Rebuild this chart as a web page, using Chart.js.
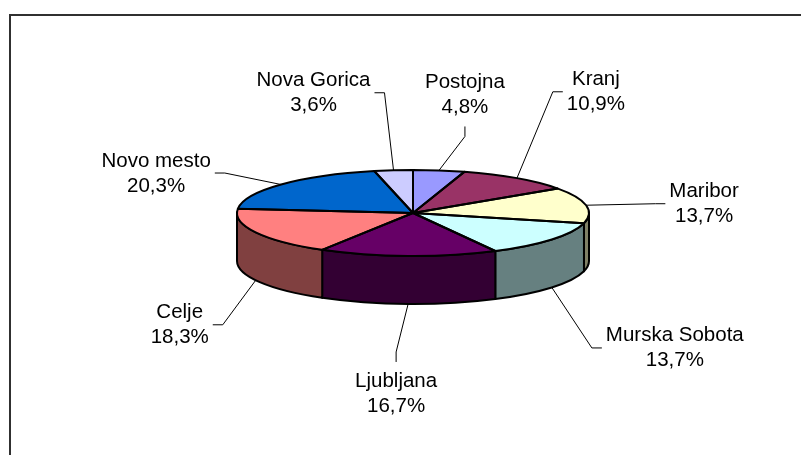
<!DOCTYPE html>
<html>
<head>
<meta charset="utf-8">
<script src="https://cdn.jsdelivr.net/npm/chart.js@4.4.0/dist/chart.umd.min.js"></script>
<style>
  html, body { margin: 0; padding: 0; background: #fff; }
  #wrap { width: 801px; height: 455px; }
</style>
</head>
<body>
<div id="wrap"><canvas id="pieChart" width="801" height="455"></canvas></div>
<script>
// Data
const regions = ['Postojna', 'Kranj', 'Maribor', 'Murska Sobota', 'Ljubljana', 'Celje', 'Novo mesto', 'Nova Gorica'];
const shares = [4.8, 10.9, 13.7, 13.7, 16.7, 18.3, 20.3, 3.6];

// Colors (top face and darker side wall)
const topColors = ['#9999FF', '#993366', '#FFFFCC', '#CCFFFF', '#660066', '#FF8080', '#0066CC', '#CCCCFF'];
const sideColors = ['#4C4C80', '#4C1933', '#808066', '#668080', '#330033', '#804040', '#003366', '#666680'];

// 3D look: vertical squash of the disc and height of the wall
const TILT = 43 / 176;
const DEPTH = 48;

// where each label sits, relative to the point where its leader touches the slice
const labelOffsets = [[26, -82], [79, -93], [118, -8], [123, 54], [-12, 83], [-76, 38], [-125, -18], [-80, -84]];

function fmt(v) {
    return v.toFixed(1).replace('.', ',') + '%';
}

const framePlugin = {
    id: 'frame',
    beforeDraw(chart) {
        const ctx = chart.ctx;
        ctx.save();
        ctx.strokeStyle = '#303030';
        ctx.lineWidth = 2;
        ctx.beginPath();
        ctx.moveTo(10, chart.height);
        ctx.lineTo(10, 15);
        ctx.lineTo(chart.width, 15);
        ctx.stroke();
        ctx.restore();
    }
};

const tiltPlugin = {
    id: 'tilt',
    beforeDatasetsDraw(chart) {
        const ctx = chart.ctx;
        const arcs = chart.getDatasetMeta(0).data;
        // side walls (only the front half is visible)
        ctx.save();
        ctx.strokeStyle = '#000';
        ctx.lineWidth = 2;
        ctx.lineJoin = 'round';
        arcs.forEach((arc, i) => {
            const r = arc.outerRadius;
            const a = Math.max(arc.startAngle, 0);
            const b = Math.min(arc.endAngle, Math.PI);
            if (b <= a) return;
            ctx.beginPath();
            ctx.ellipse(arc.x, arc.y, r, r * TILT, 0, a, b);
            ctx.ellipse(arc.x, arc.y + DEPTH, r, r * TILT, 0, b, a, true);
            ctx.closePath();
            ctx.fillStyle = sideColors[i];
            ctx.fill();
            ctx.stroke();
        });
        ctx.restore();

        // squash the top face
        const cx = arcs[0].x, cy = arcs[0].y;
        ctx.save();
        ctx.translate(cx, cy);
        ctx.scale(1, TILT);
        ctx.translate(-cx, -cy);
    },
    afterDatasetsDraw(chart) {
        const ctx = chart.ctx;
        ctx.restore();
        const arcs = chart.getDatasetMeta(0).data;

        // slice outlines on top face
        ctx.save();
        ctx.strokeStyle = '#000';
        ctx.lineWidth = 2;
        ctx.lineJoin = 'round';
        arcs.forEach(arc => {
            const r = arc.outerRadius;
            ctx.beginPath();
            ctx.moveTo(arc.x, arc.y);
            ctx.ellipse(arc.x, arc.y, r, r * TILT, 0, arc.startAngle, arc.endAngle);
            ctx.closePath();
            ctx.stroke();
        });

        // labels with leader lines
        ctx.font = '20.5px "Liberation Sans", Arial, sans-serif';
        ctx.textAlign = 'center';
        ctx.textBaseline = 'alphabetic';
        ctx.lineWidth = 1;
        arcs.forEach((arc, i) => {
            const r = arc.outerRadius;
            const mid = (arc.startAngle + arc.endAngle) / 2;
            const px = arc.x + r * Math.cos(mid);
            const py = arc.y + r * TILT * Math.sin(mid) + (Math.sin(mid) > 0 ? DEPTH : 0);

            const lx = px + labelOffsets[i][0];
            const b1 = py + labelOffsets[i][1];
            const line1 = regions[i], line2 = fmt(shares[i]);
            const w = Math.max(ctx.measureText(line1).width, ctx.measureText(line2).width);
            const box = { left: lx - w / 2 - 4, right: lx + w / 2 + 4, top: b1 - 25, bottom: b1 + 38 };
            const midY = b1 + 6.5;

            let sx, sy, ex, ey;
            if (px > box.right) { sx = box.right; sy = midY; ex = sx + 10; ey = sy; }
            else if (px < box.left) { sx = box.left; sy = midY; ex = sx - 10; ey = sy; }
            else if (py > box.bottom) { sx = lx; sy = box.bottom; ex = sx; ey = sy + 10; }
            else { sx = lx; sy = box.top; ex = sx; ey = sy - 10; }

            ctx.beginPath();
            ctx.moveTo(sx, sy);
            ctx.lineTo(ex, ey);
            ctx.lineTo(px, py);
            ctx.stroke();

            ctx.fillStyle = '#000';
            ctx.fillText(line1, lx, b1);
            ctx.fillText(line2, lx, b1 + 25);
        });
        ctx.restore();
    }
};

new Chart(document.getElementById('pieChart').getContext('2d'), {
    type: 'pie',
    data: {
        labels: regions,
        datasets: [{
            data: shares,
            backgroundColor: topColors,
            borderWidth: 0,
            hoverOffset: 0,
            clip: false
        }]
    },
    options: {
        responsive: false,
        animation: false,
        events: [],
        layout: { padding: { left: 237, right: 212, top: 37, bottom: 66 } },
        plugins: {
            legend: { display: false },
            tooltip: { enabled: false }
        }
    },
    plugins: [framePlugin, tiltPlugin]
});
</script>
</body>
</html>
